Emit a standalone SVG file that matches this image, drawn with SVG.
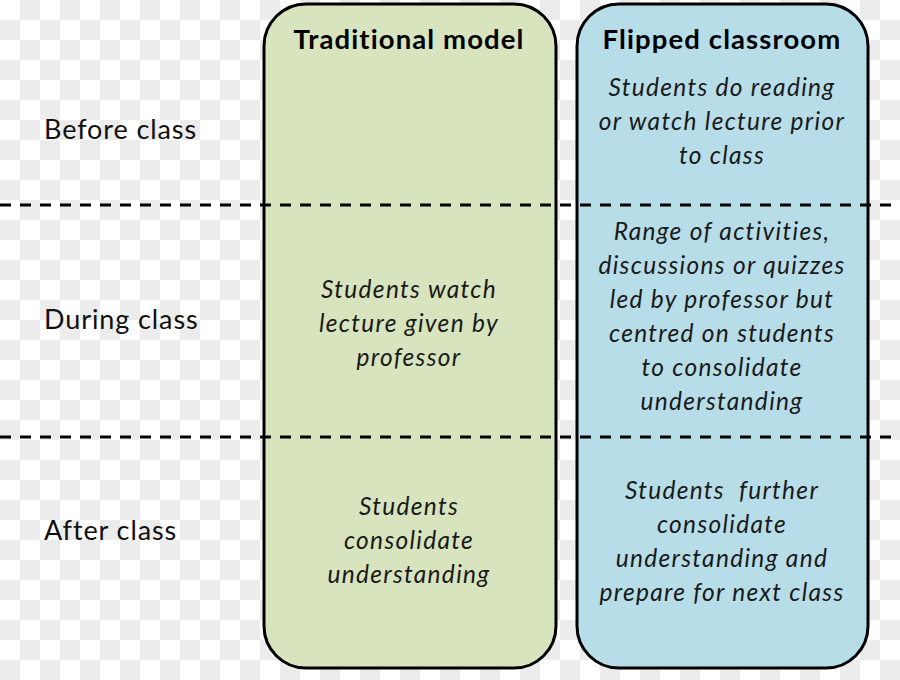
<svg xmlns="http://www.w3.org/2000/svg" width="900" height="680" viewBox="0 0 900 680">
<defs>
<pattern id="checker" x="0" y="0" width="40" height="40" patternUnits="userSpaceOnUse">
<rect x="0" y="0" width="40" height="40" fill="#ffffff"/>
<rect x="20" y="0" width="20" height="20" fill="#ececec"/>
<rect x="0" y="20" width="20" height="20" fill="#ececec"/>
</pattern>
</defs>
<style>
.box{stroke:#000;stroke-width:3}
.head{font-family:Lato,"Open Sans",sans-serif;font-weight:bold;font-size:27.5px;letter-spacing:1.1px;fill:#000;text-anchor:middle}
.body{font-family:Lato,"Open Sans",sans-serif;font-style:italic;font-size:24.5px;letter-spacing:1.3px;fill:#1a1a1a;text-anchor:middle}
.lbl{font-family:Lato,"Open Sans",sans-serif;font-size:27px;letter-spacing:0.9px;fill:#111}
.dash{stroke:#000;stroke-width:3;stroke-dasharray:11 9;fill:none}
</style>
<rect x="0" y="0" width="900" height="680" fill="url(#checker)"/>
<g id="traditional">
<rect class="box" x="264" y="4" width="292" height="664" rx="42" ry="42" fill="#d7e4bd"/>
<text class="head" x="409" y="49">Traditional model</text>
</g>
<g id="flipped">
<rect class="box" x="577" y="4" width="291" height="664" rx="42" ry="42" fill="#b7dde8"/>
<text class="head" x="722" y="49">Flipped classroom</text>
</g>
<g id="connectors">
<line class="dash" x1="0" y1="205" x2="900" y2="205"/>
<line class="dash" x1="0" y1="437" x2="900" y2="437"/>
</g>
<g id="labels">
<text class="lbl" x="44" y="139">Before class</text>
<text class="lbl" x="44" y="329">During class</text>
<text class="lbl" x="44" y="540">After class</text>
</g>
<g id="trad-during">
<text class="body" x="409" y="298">Students watch</text>
<text class="body" x="409" y="332">lecture given by</text>
<text class="body" x="409" y="366">professor</text>
</g>
<g id="trad-after">
<text class="body" x="409" y="515">Students</text>
<text class="body" x="409" y="549">consolidate</text>
<text class="body" x="409" y="583">understanding</text>
</g>
<g id="flip-before">
<text class="body" x="722" y="96">Students do reading</text>
<text class="body" x="722" y="130">or watch lecture prior</text>
<text class="body" x="722" y="164">to class</text>
</g>
<g id="flip-during">
<text class="body" x="722" y="240">Range of activities,</text>
<text class="body" x="722" y="274">discussions or quizzes</text>
<text class="body" x="722" y="308">led by professor but</text>
<text class="body" x="722" y="342">centred on students</text>
<text class="body" x="722" y="376">to consolidate</text>
<text class="body" x="722" y="410">understanding</text>
</g>
<g id="flip-after">
<text class="body" x="722" y="499">Students&#160; further</text>
<text class="body" x="722" y="533">consolidate</text>
<text class="body" x="722" y="567">understanding and</text>
<text class="body" x="722" y="601">prepare for next class</text>
</g>
</svg>
